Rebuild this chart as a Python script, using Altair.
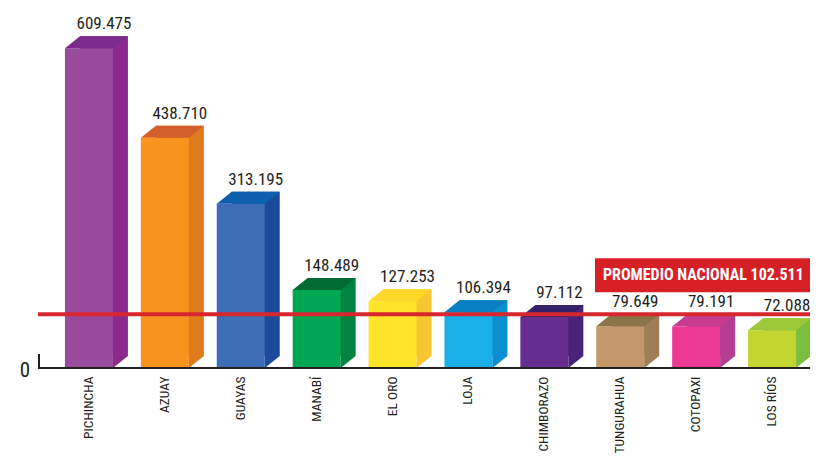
import altair as alt
import pandas as pd

# ---- data ----
provinces = ["PICHINCHA", "AZUAY", "GUAYAS", "MANABÍ", "EL ORO", "LOJA",
             "CHIMBORAZO", "TUNGURAHUA", "COTOPAXI", "LOS RÍOS"]
values = [609.475, 438.710, 313.195, 148.489, 127.253, 106.394,
          97.112, 79.649, 79.191, 72.088]
national_average = [102.511]
average_label = ["PROMEDIO NACIONAL 102.511"]

# ---- palettes (front face, top face, side face) ----
front_colors = ["#984A9C", "#F7941D", "#3D6DB5", "#00A651", "#FFE52A",
                "#1AAFE6", "#662D91", "#C4976A", "#EC3A94", "#C2D530"]
top_colors = ["#7A2B8C", "#D3602A", "#0E5FAE", "#006B33", "#FDD82A",
              "#0A7FC4", "#35206A", "#8B7548", "#C73C8E", "#9CC83A"]
side_colors = ["#8B2A8C", "#E07B1C", "#1E4A9A", "#008241", "#F7C631",
               "#0A8FD0", "#4A2379", "#A07E55", "#B53D92", "#7CBF3F"]

df = pd.DataFrame({"provincia": provinces, "valor": values,
                   "c_front": front_colors, "c_top": top_colors,
                   "c_side": side_colors})
avg_df = pd.DataFrame({"promedio": national_average, "texto": average_label,
                       "cero": [0]})

W, H = 772, 360
FONT = "Roboto Condensed, Liberation Sans Narrow, DejaVu Sans Condensed, sans-serif"
BW, DX, DY = 48, 15, 12
INK = "#231F20"

yscale = alt.Scale(domain=[0, 686], nice=False, zero=True)
xenc = alt.X(
    "provincia:N", sort=provinces,
    scale=alt.Scale(paddingInner=0, paddingOuter=0.0856, align=1),
    axis=alt.Axis(title=None, labelAngle=-90, labelAlign="right",
                  labelBaseline="middle", labelPadding=8, ticks=False,
                  domain=False, grid=False, labelFont=FONT,
                  labelFontSize=13.5, labelColor=INK, labelOverlap=False,
                  labelFlush=False),
)
yenc = alt.Y("valor:Q", scale=yscale, axis=None)

base = alt.Chart(df).encode(x=xenc, y=yenc)

side = base.mark_bar(size=BW, xOffset=DX, yOffset=-DY, y2Offset=-DY).encode(
    color=alt.Color("c_side:N", scale=None))
front = base.mark_bar(size=BW).encode(color=alt.Color("c_front:N", scale=None))

top_shape = "M-1,0.190476L-0.52381,-0.190476L1,-0.190476L0.52381,0.190476Z"
top = base.mark_point(shape=top_shape, size=(BW + DX) ** 2, filled=True,
                      opacity=1, strokeWidth=0, xOffset=(BW + DX) / 2 - BW / 2,
                      yOffset=-DY / 2).encode(
    color=alt.Color("c_top:N", scale=None))

tri_shape = "M-1,-0.8L-1,0.8L1,-0.8Z"
bottom_tri = alt.Chart(df).mark_point(
    shape=tri_shape, size=DX ** 2, filled=True, opacity=1, strokeWidth=0,
    xOffset=BW / 2 + DX / 2, yOffset=-DY / 2).encode(
    x=xenc, y=alt.Y("zero:Q", scale=yscale, axis=None),
    color=alt.Color("c_side:N", scale=None)).transform_calculate(zero="0")

labels = base.mark_text(dx=15, dy=-(DY + 7), baseline="alphabetic",
                        fontSize=17, font=FONT, color=INK).encode(
    text=alt.Text("valor:Q", format=".3f"))

avg = alt.Chart(avg_df)
avg_y = alt.Y("promedio:Q", scale=yscale, axis=None)
zero_y = alt.Y("cero:Q", scale=yscale, axis=None)
red_line = avg.mark_rule(color="#D7262E", strokeWidth=4).encode(
    y=avg_y, x=alt.value(0), x2=alt.value(W + 20))
box = avg.mark_rect(color="#D71F26", yOffset=-56, y2Offset=-22).encode(
    y=avg_y, y2="promedio:Q", x=alt.value(557), x2=alt.value(W + 30))
box_text = avg.mark_text(align="left", baseline="middle", fontSize=16,
                         fontWeight="bold", color="white", font=FONT,
                         dy=-39).encode(y=avg_y, x=alt.value(565), text="texto:N")

baseline = avg.mark_rule(color=INK, strokeWidth=2).encode(
    y=zero_y, x=alt.value(0), x2=alt.value(W + 20))
corner = avg.mark_rule(color=INK, strokeWidth=2, y2Offset=-14).encode(
    x=alt.value(1), y=zero_y, y2="cero:Q")
zero = avg.mark_text(align="right", baseline="middle", fontSize=21, font=FONT,
                     color=INK, dy=3).encode(
    x=alt.value(-8), y=zero_y, text="cero:Q")

chart = alt.layer(side, front, top, bottom_tri, labels, red_line, box,
                  box_text, baseline, corner, zero).properties(
    width=W, height=H, autosize="none",
    padding={"left": 30, "top": 0, "right": 0, "bottom": 91},
).configure_view(stroke=None)

chart.save("out.html", embed_options={"renderer": "svg", "actions": False})
